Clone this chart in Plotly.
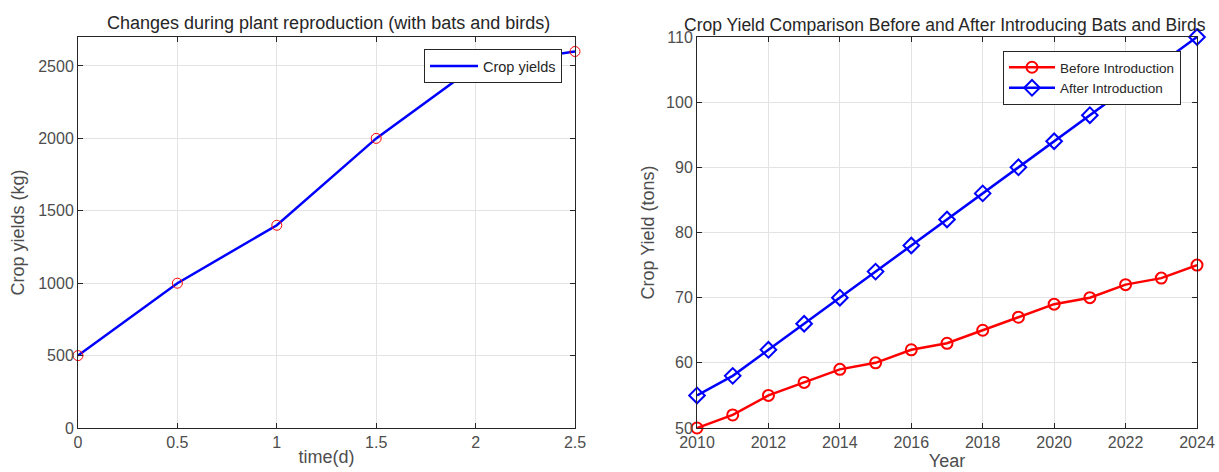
import plotly.graph_objects as go

# Left chart data
time_d = [0, 0.5, 1, 1.5, 2, 2.5]
crop_yields_kg = [500, 1000, 1400, 2000, 2500, 2600]

# Right chart data
years = list(range(2010, 2025))
before_intro = [50, 52, 55, 57, 59, 60, 62, 63, 65, 67, 69, 70, 72, 73, 75]
after_intro = [55, 58, 62, 66, 70, 74, 78, 82, 86, 90, 94, 98, 102, 106, 110]

FONT = "Liberation Sans, Arial, sans-serif"
TICKC = "#4d4d4d"
AXC = "#262626"
W, H = 1219, 472

fig = go.Figure()

fig.add_trace(go.Scatter(x=time_d, y=crop_yields_kg, mode="lines", name="Crop yields",
                         line=dict(color="#0000ff", width=2.5), xaxis="x", yaxis="y",
                         legend="legend"))
fig.add_trace(go.Scatter(x=time_d, y=crop_yields_kg, mode="markers", showlegend=False,
                         marker=dict(symbol="circle-open", color="#ff0000", size=10,
                                     line=dict(width=1)),
                         xaxis="x", yaxis="y", cliponaxis=False))

fig.add_trace(go.Scatter(x=years, y=before_intro, mode="lines+markers", name="Before Introduction",
                         line=dict(color="#ff0000", width=2.5),
                         marker=dict(symbol="circle-open", color="#ff0000", size=11,
                                     line=dict(width=2)),
                         xaxis="x2", yaxis="y2", legend="legend2", cliponaxis=False))
fig.add_trace(go.Scatter(x=years, y=after_intro, mode="lines+markers", name="After Introduction",
                         line=dict(color="#0000ff", width=2.5),
                         marker=dict(symbol="diamond-open", color="#0000ff", size=12,
                                     line=dict(width=2)),
                         xaxis="x2", yaxis="y2", legend="legend2", cliponaxis=False))

def ax(**kw):
    d = dict(showline=True, linecolor=AXC, linewidth=1, mirror="ticks", ticks="inside",
             ticklen=5, tickcolor=AXC, showgrid=True, gridcolor="#e3e3e3", gridwidth=1,
             zeroline=False, automargin=False,
             tickfont=dict(family=FONT, size=16, color=TICKC),
             title_font=dict(family=FONT, size=18, color=TICKC))
    d.update(kw)
    return d

yb = 1 - 428 / H
yt = 1 - 37 / H

fig.update_layout(
    width=W, height=H,
    margin=dict(l=0, r=0, t=0, b=0),
    paper_bgcolor="white", plot_bgcolor="white",
    font=dict(family=FONT, color=AXC),
    xaxis=ax(domain=[78 / W, 575 / W], range=[0, 2.5], tickvals=[0, 0.5, 1, 1.5, 2, 2.5],
             ticktext=["0", "0.5", "1", "1.5", "2", "2.5"],
             title=dict(text="time(d)", standoff=0), anchor="y"),
    yaxis=ax(domain=[yb, yt], range=[0, 2700], tickvals=[0, 500, 1000, 1500, 2000, 2500],
             title=dict(text="Crop yields (kg)", standoff=8), anchor="x"),
    xaxis2=ax(domain=[697 / W, 1197 / W], range=[2010, 2024], tickvals=list(range(2010, 2025, 2)),
              title=dict(text="Year", standoff=0), anchor="y2"),
    yaxis2=ax(domain=[yb, yt], range=[50, 110], tickvals=list(range(50, 111, 10)),
              title=dict(text="Crop Yield (tons)", standoff=6), anchor="x2"),
    legend=dict(x=562 / W, y=1 - 49 / H, xanchor="right", yanchor="top",
                bgcolor="white", bordercolor=AXC, borderwidth=1,
                font=dict(family=FONT, size=14.5, color=AXC), itemwidth=48,
                tracegroupgap=0),
    legend2=dict(x=1181 / W, y=1 - 51 / H, xanchor="right", yanchor="top",
                 bgcolor="white", bordercolor=AXC, borderwidth=1,
                 font=dict(family=FONT, size=13.5, color=AXC), itemwidth=46,
                 tracegroupgap=0),
    annotations=[
        dict(text="Changes during plant reproduction (with bats and birds)", x=329 / W,
             y=1 - 23 / H, xref="paper", yref="paper", showarrow=False,
             font=dict(family=FONT, size=18, color=AXC), xanchor="center", yanchor="middle"),
        dict(text="Crop Yield Comparison Before and After Introducing Bats and Birds",
             x=945 / W, y=1 - 25 / H, xref="paper", yref="paper", showarrow=False,
             font=dict(family=FONT, size=17.5, color=AXC), xanchor="center", yanchor="middle"),
    ],
)

fig.write_html("out.html", config={"displayModeBar": False},
               post_script="document.body.style.margin='0';document.body.style.overflow='hidden';")
